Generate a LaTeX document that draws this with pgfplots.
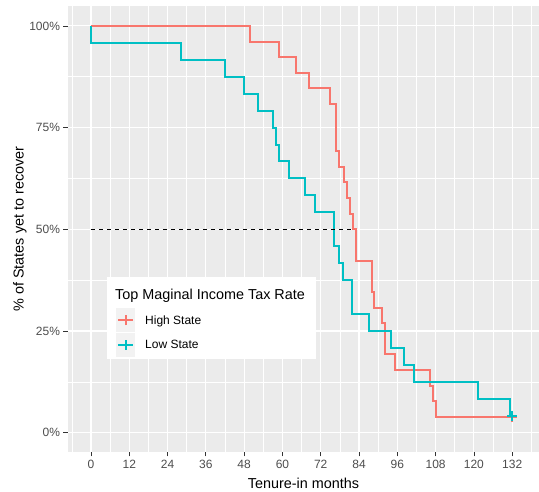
\documentclass[border=0pt]{standalone}
\usepackage{fontspec}
\setmainfont{Liberation Sans}
\usepackage{pgfplots}
\pgfplotsset{compat=1.18}
\definecolor{hi}{HTML}{F8766D}
\definecolor{lo}{HTML}{00BFC4}
\definecolor{panel}{HTML}{EBEBEB}
\definecolor{txt}{HTML}{4D4D4D}
\definecolor{tk}{HTML}{333333}
\definecolor{keybg}{HTML}{F2F2F2}
\begin{document}
\begin{tikzpicture}
\begin{axis}[
  name=ax, at={(0,0)}, anchor=south west,
  scale only axis, width=471pt, height=446pt,
  xmin=-7.2, xmax=140.4, ymin=-4.75, ymax=104.9,
  axis background/.style={fill=panel},
  axis line style={draw=none},
  grid=both,
  major grid style={white, line width=1.1pt},
  minor grid style={white, line width=0.55pt},
  xtick={0,12,...,132},
  minor xtick={-6,6,...,138},
  ytick={0,25,50,75,100},
  yticklabels={0\%,25\%,50\%,75\%,100\%},
  minor ytick={12.5,37.5,62.5,87.5},
  tick align=outside,
  major tick length=4.5pt, minor tick length=0pt,
  tick style={tk, line width=0.8pt},
  xtick pos=left, ytick pos=left,
  ticklabel style={font=\fontsize{12}{14}\selectfont, text=txt},
  /pgf/number format/assume math mode=true,
  xlabel={Tenure-in months},
  ylabel={\% of States yet to recover},
  label style={font=\fontsize{14.4}{16}\selectfont},
  xlabel style={at={(axis description cs:0.5,-0.0818)}, anchor=base},
  ylabel style={at={(axis description cs:-0.0943,0.5)}, anchor=base},
  legend style={at={(axis description cs:0.1019,0.3222)}, anchor=north west,
    draw=none, fill=none, inner sep=0pt, row sep=0.4pt, column sep=8pt,
    font=\fontsize{12}{14}\selectfont, cells={anchor=west}},
  legend image code/.code={
    \fill[keybg] (0pt,-11pt) rectangle (17pt,11pt);
    \draw[#1] (1pt,0pt) -- (16pt,0pt);
    \draw[#1] (8.5pt,-5pt) -- (8.5pt,5pt);
  },
]
\fill[white] (rel axis cs:0.0834,0.2078) rectangle (rel axis cs:0.5265,0.393);
\node[anchor=base west, font=\fontsize{14.4}{16}\selectfont, inner sep=0pt] at (rel axis cs:0.0998,0.3424) {Top Maginal Income Tax Rate};

\addplot[hi, line width=2pt, const plot] coordinates {
(0,100) (49.8,96.15) (59.0,92.31) (64.1,88.46) (68.2,84.62) (74.9,80.77)
(76.9,69.23) (77.7,65.38) (79.2,61.54) (80.3,57.69) (81.1,53.85) (82.2,50)
(83.0,42.31) (88.0,34.62) (88.7,30.77) (91.2,26.92) (92.1,19.23) (95.2,15.38)
(106.3,11.54) (107.3,7.69) (108.2,3.85) (132,3.85)};
\addlegendentry{High State}
\addplot[lo, line width=2pt, const plot] coordinates {
(0,100) (0,95.83) (28.1,91.67) (42.0,87.5) (48.0,83.33) (52.3,79.17) (57.1,75)
(58.1,70.83) (59.0,66.67) (62.2,62.5) (67.2,58.33) (70.1,54.17) (76.1,45.83)
(77.8,41.67) (79.1,37.5) (81.9,29.17) (87.2,25) (94.1,20.83) (98.1,16.67)
(101.3,12.5) (121.2,8.33) (131.2,4.17) (132,4.17)};
\addlegendentry{Low State}
\addplot[hi, only marks, mark=+, mark size=5pt, line width=2pt, forget plot] coordinates {(132,3.85)};
\addplot[lo, only marks, mark=+, mark size=5pt, line width=2pt, forget plot] coordinates {(132,4.17)};
\addplot[black, line width=0.9pt, dash pattern=on 4pt off 4pt, forget plot] coordinates {(0,50) (82.2,50)};
\end{axis}
\pgfresetboundingbox
\path (-68pt,-40pt) rectangle (471pt,452pt);
\end{tikzpicture}
\end{document}
